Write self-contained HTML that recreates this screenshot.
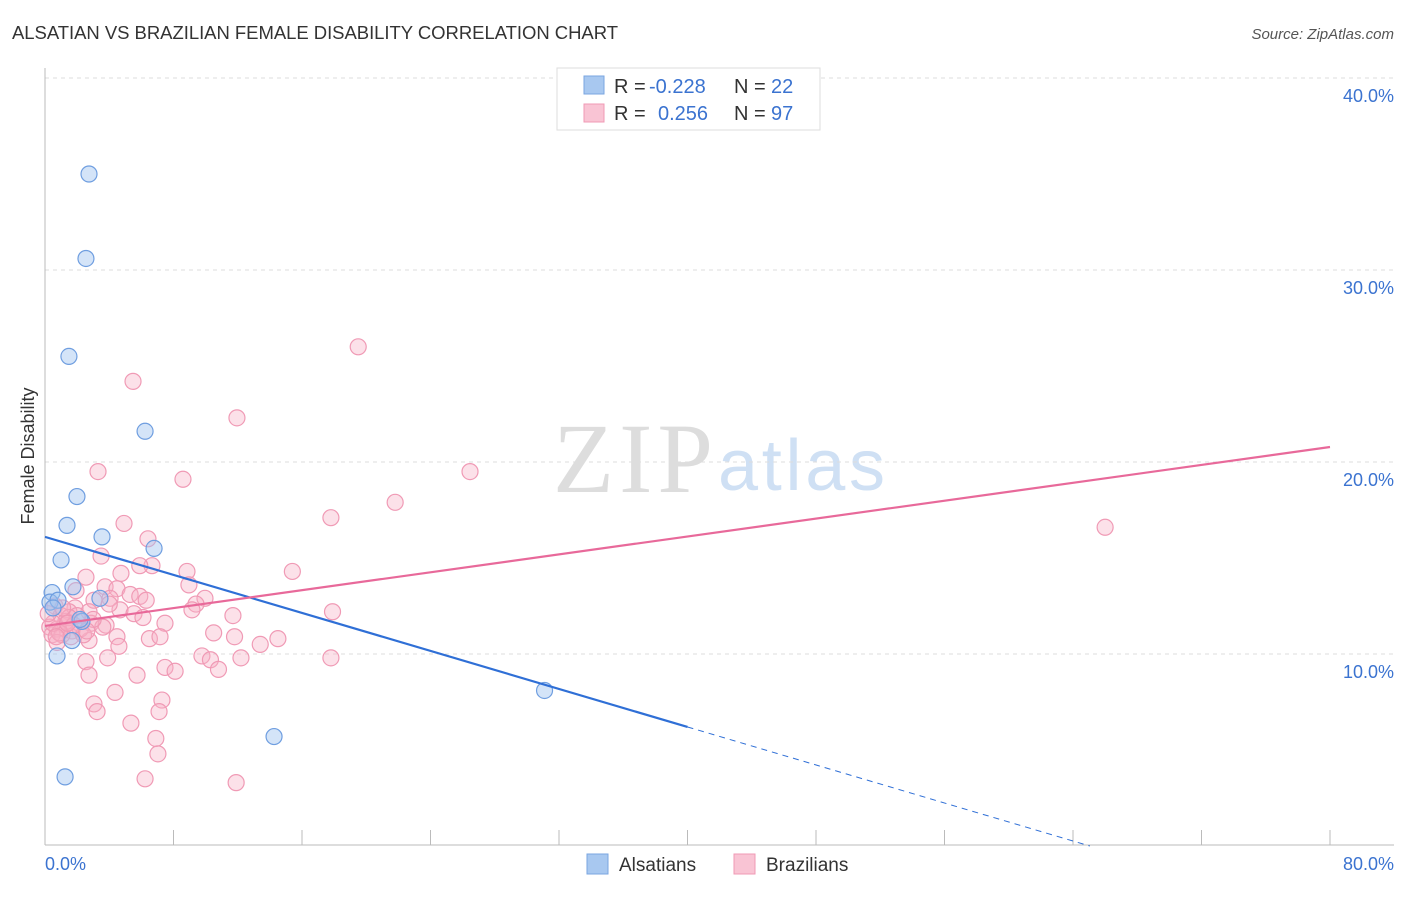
<!DOCTYPE html>
<html><head><meta charset="utf-8"><style>
body{margin:0;background:#fff;font-family:"Liberation Sans",sans-serif;}
</style></head><body>
<svg width="1406" height="892" xmlns="http://www.w3.org/2000/svg" font-family="Liberation Sans, sans-serif">
<text x="12" y="39" font-size="18.5" fill="#333" textLength="606">ALSATIAN VS BRAZILIAN FEMALE DISABILITY CORRELATION CHART</text>
<text x="1394" y="39" font-size="15" fill="#555" text-anchor="end" font-style="italic">Source: ZipAtlas.com</text>
<text x="553" y="492" font-size="100" fill="#ddd" font-family="Liberation Serif, serif" textLength="160">ZIP</text>
<text x="718" y="490" font-size="72" fill="#cfe0f4" textLength="167">atlas</text>
<g id="grid"></g>
<g id="axes"></g>
<g id="pts"></g>
<g id="lines"></g>
<text x="34" y="456" font-size="18" fill="#333" transform="rotate(-90 34 456)" text-anchor="middle">Female Disability</text>
<text x="45" y="870" font-size="18" fill="#3b73d0">0.0%</text>
<text x="1394" y="870" font-size="18" fill="#3b73d0" text-anchor="end">80.0%</text>
<g>
<rect x="557" y="68" width="263" height="62" fill="#fff" stroke="#ddd"/>
<rect x="584" y="76" width="20" height="18" fill="#a8c8f0" stroke="#7aa6e0"/>
<rect x="584" y="104" width="20" height="18" fill="#f9c4d4" stroke="#f09ab5"/>
<text x="614" y="93" font-size="20" fill="#333">R =</text>
<text x="649" y="93" font-size="20" fill="#3b73d0">-0.228</text>
<text x="734" y="93" font-size="20" fill="#333">N =</text>
<text x="771" y="93" font-size="20" fill="#3b73d0">22</text>
<text x="614" y="120" font-size="20" fill="#333">R =</text>
<text x="658" y="120" font-size="20" fill="#3b73d0">0.256</text>
<text x="734" y="120" font-size="20" fill="#333">N =</text>
<text x="771" y="120" font-size="20" fill="#3b73d0">97</text>
</g>
<g>
<rect x="587" y="854" width="21" height="20" fill="#a8c8f0" stroke="#7aa6e0"/>
<text x="619" y="871" font-size="19" fill="#333">Alsatians</text>
<rect x="734" y="854" width="21" height="20" fill="#f9c4d4" stroke="#f09ab5"/>
<text x="766" y="871" font-size="19" fill="#333">Brazilians</text>
</g>
</svg>
<script>
const yTicks=[10,20,30,40];
const xTicks=[0,8,16,24,32,40,48,56,64,72,80];
const alsX=[2.74,2.55,1.49,6.23,1.99,1.37,3.55,6.79,1.0,1.74,0.44,0.31,0.81,3.42,2.3,1.68,0.75,31.1,14.26,1.25,2.18,0.5];
const alsY=[35.0,30.6,25.5,21.6,18.2,16.7,16.1,15.5,14.9,13.5,13.2,12.7,12.8,12.9,11.7,10.7,9.9,8.1,5.7,3.6,11.8,12.4];
const brzX=[19.5,5.48,11.95,26.46,3.3,8.59,21.8,17.8,66.0,4.92,6.41,3.49,6.66,5.9,15.4,8.84,4.73,2.55,8.96,3.74,4.48,1.93,5.3,5.9,9.96,4.05,3.05,6.3,9.4,0.62,1.87,4.67,17.9,9.15,2.74,1.49,5.54,11.7,6.1,1.0,7.47,3.8,2.86,1.24,0.3,0.75,1.68,10.5,0.44,1.06,4.48,6.5,11.8,14.5,7.16,2.74,1.62,13.4,4.6,0.75,9.77,17.8,12.2,10.3,3.9,2.55,7.47,8.1,10.8,5.73,2.74,4.36,7.28,3.05,3.24,7.1,5.35,6.9,7.03,6.23,11.9,2.2,1.3,0.9,2.0,3.6,4.0,1.5,0.5,2.4,1.1,3.0,0.2,1.8,2.6,0.7,1.4];
const brzY=[26.0,24.2,22.3,19.5,19.5,19.1,17.9,17.1,16.6,16.8,16.0,15.1,14.6,14.6,14.3,14.3,14.2,14.0,13.6,13.5,13.4,13.3,13.1,13.0,12.9,12.9,12.8,12.8,12.6,12.5,12.4,12.3,12.2,12.3,12.2,12.2,12.1,12.0,11.9,12.0,11.6,11.5,11.6,11.5,11.4,11.3,11.2,11.1,11.0,11.0,10.9,10.8,10.9,10.8,10.9,10.7,10.9,10.5,10.4,10.6,9.9,9.8,9.8,9.7,9.8,9.6,9.3,9.1,9.2,8.9,8.9,8.0,7.6,7.4,7.0,7.0,6.4,5.6,4.8,3.5,3.3,11.3,11.7,11.1,12.0,11.4,12.6,11.9,11.6,11.0,12.4,11.8,12.1,11.5,11.2,10.9,11.6];
const alsLine=[16.1,-0.2475];
const brzLine=[11.46,0.1165];
const X=v=>45+v/80*1285, Y=v=>846-v*19.2;
const NS='http://www.w3.org/2000/svg';
function mk(t,a,p){const e=document.createElementNS(NS,t);for(const k in a)e.setAttribute(k,a[k]);p.appendChild(e);return e;}
const grid=document.getElementById('grid'),axes=document.getElementById('axes'),pts=document.getElementById('pts'),lines=document.getElementById('lines');
yTicks.forEach(t=>{
 const l=mk('line',{x1:45,x2:1394,y1:Y(t),y2:Y(t),stroke:'#ddd','stroke-dasharray':'4,4'},grid);
 
 
 const tx=mk('text',{x:1394,y:Y(t)+24,'font-size':18,fill:'#3b73d0','text-anchor':'end'},grid);
 tx.textContent=t.toFixed(1)+'%';
 
 
});
const xa=mk('line',{x1:45,x2:1394,y1:845,y2:845,stroke:'#bbb'},axes);


const ya=mk('line',{x1:45,x2:45,y1:68,y2:845,stroke:'#bbb'},axes);


xTicks.forEach(t=>{
 const l=mk('line',{x1:X(t),x2:X(t),y1:830,y2:845,stroke:'#bbb'},axes);
 
 
});
brzX.forEach((x,i)=>{
 const c=mk('circle',{cx:X(x),cy:Y(brzY[i]),r:8,fill:'rgba(248,175,198,0.38)',stroke:'#f09ab5','stroke-width':1.2},pts);
 
 
});
alsX.forEach((x,i)=>{
 const c=mk('circle',{cx:X(x),cy:Y(alsY[i]),r:8,fill:'rgba(160,196,240,0.45)',stroke:'#6f9ee0','stroke-width':1.2},pts);
 
 
});
const f=(L,x)=>L[0]+L[1]*x;
const xEnd=-alsLine[0]/alsLine[1];
const bl=mk('line',{x1:X(0),y1:Y(f(alsLine,0)),x2:X(40),y2:Y(f(alsLine,40)),stroke:'#2f6fd6','stroke-width':2.2},lines);


const bd=mk('line',{x1:X(40),y1:Y(f(alsLine,40)),x2:X(xEnd),y2:Y(0),stroke:'#2f6fd6','stroke-width':1,'stroke-dasharray':'6,5'},lines);


const pl=mk('line',{x1:X(0),y1:Y(f(brzLine,0)),x2:X(80),y2:Y(f(brzLine,80)),stroke:'#e8699a','stroke-width':2.2},lines);


</script>
</body></html>
